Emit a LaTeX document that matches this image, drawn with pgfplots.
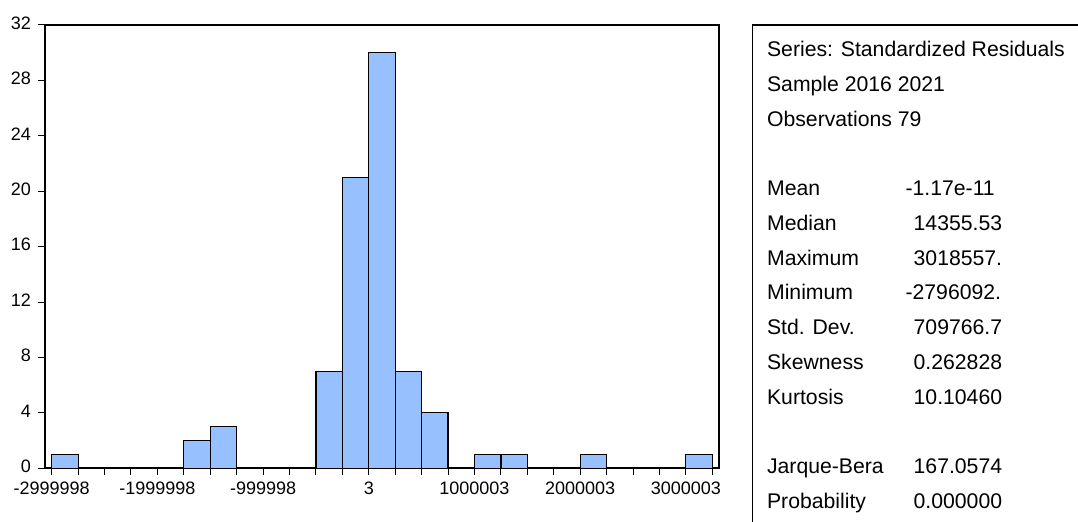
\documentclass[border=0pt]{standalone}
\usepackage{fontspec}
\setmainfont{Liberation Sans}
\usepackage{pgfplots}
\pgfplotsset{compat=1.18}
\definecolor{barblue}{RGB}{150,192,255}
\newcommand{\sz}{\fontsize{9}{11}\selectfont}
\newcommand{\st}{\fontsize{10.6}{12}\selectfont}
\begin{document}
\begin{tikzpicture}
\useasboundingbox (0,0) rectangle (539pt,261pt);
\begin{axis}[
  at={(22.5pt,26.85pt)}, anchor=south west,
  scale only axis, width=337pt, height=221.65pt,
  xmin=-3063400, xmax=3313400, ymin=0, ymax=32,
  tick pos=left, tick align=outside,
  major tick length=3.5pt, minor tick length=3.5pt,
  xtick={-2999998,-1999998,-999998,3,1000003,2000003,3000003},
  xticklabels={-2999998,-1999998,-999998,3,1000003,2000003,3000003},
  minor xtick={-2749998,-2499998,-2249998,-1749998,-1499998,-1249998,-749998,-499998,-249998,250003,500003,750003,1250003,1500003,1750003,2250003,2500003,2750003,3250003},
  ytick={0,4,8,12,16,20,24,28,32},
  yticklabels={0,4,8,12,16,20,24,28,32},
  ticklabel style={font=\sz},
  yticklabel style={yshift=1pt},
  axis line style={line width=0.8pt},
  every tick/.style={black, line width=0.5pt},
  scaled x ticks=false,
]
\addplot[ybar, bar width=250000, fill=barblue, draw=black, line width=0.6pt] coordinates {
  (-2874998,1) (-1624998,2) (-1374998,3) (-374998,7) (-124998,21)
  (125002,30) (375002,7) (625002,4) (1125002,1) (1375002,1)
  (2125002,1) (3125002,1)
};
\end{axis}
% statistics box
\draw[line width=0.6pt] (376.35pt,-1pt) -- (376.35pt,248.5pt) -- (540pt,248.5pt);
\begin{scope}[every node/.style={anchor=base west, inner sep=0pt, font=\st}]
\node at (383.35pt,232.65pt) {Series: Standardized Residuals};
\node at (383.35pt,232.65pt-1*17.375pt) {Sample 2016 2021};
\node at (383.35pt,232.65pt-2*17.375pt) {Observations 79};
\node at (383.35pt,232.65pt-4*17.375pt) {Mean};
\node at (383.35pt,232.65pt-5*17.375pt) {Median};
\node at (383.35pt,232.65pt-6*17.375pt) {Maximum};
\node at (383.35pt,232.65pt-7*17.375pt) {Minimum};
\node at (383.35pt,232.65pt-8*17.375pt) {Std. Dev.};
\node at (383.35pt,232.65pt-9*17.375pt) {Skewness};
\node at (383.35pt,232.65pt-10*17.375pt) {Kurtosis};
\node at (383.35pt,232.65pt-12*17.375pt) {Jarque-Bera};
\node at (383.35pt,232.65pt-13*17.375pt) {Probability};
\node at (452.6pt,232.65pt-4*17.375pt) {-1.17e-11};
\node at (456.65pt,232.65pt-5*17.375pt) {14355.53};
\node at (456.65pt,232.65pt-6*17.375pt) {3018557.};
\node at (452.6pt,232.65pt-7*17.375pt) {-2796092.};
\node at (456.65pt,232.65pt-8*17.375pt) {709766.7};
\node at (456.65pt,232.65pt-9*17.375pt) {0.262828};
\node at (456.65pt,232.65pt-10*17.375pt) {10.10460};
\node at (456.65pt,232.65pt-12*17.375pt) {167.0574};
\node at (456.65pt,232.65pt-13*17.375pt) {0.000000};
\end{scope}
\end{tikzpicture}
\end{document}
